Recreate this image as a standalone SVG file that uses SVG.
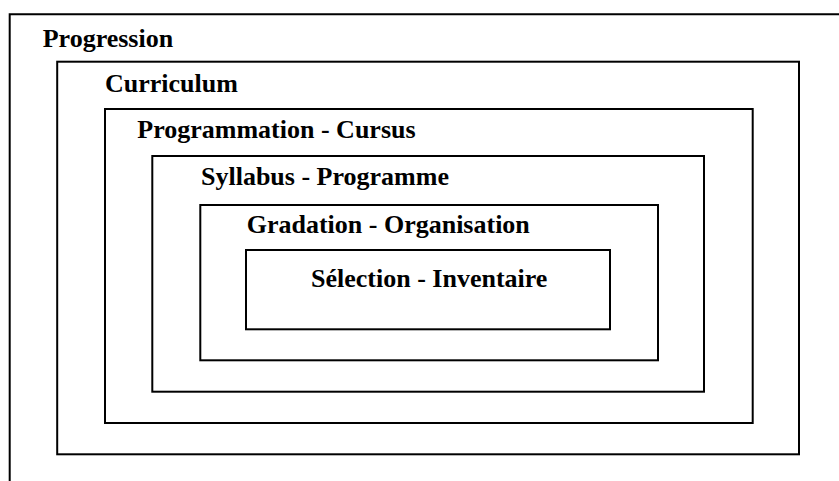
<svg xmlns="http://www.w3.org/2000/svg" width="839" height="481" viewBox="0 0 839 481">
  <style>
    .frame { fill: none; stroke: #000; stroke-width: 2; }
    .label { font-family: "Liberation Serif", "Times New Roman", serif; font-weight: bold; font-size: 26px; fill: #000; }
  </style>
  <rect x="0" y="0" width="839" height="481" fill="#fff"/>
  <g id="progression">
    <path class="frame" d="M9.7 481 V14.3 H839"/>
    <text class="label" x="42.7" y="46.5">Progression</text>
  </g>
  <g id="curriculum">
    <rect class="frame" x="57.2" y="61.7" width="741.8" height="392.6"/>
    <text class="label" x="105" y="91.5">Curriculum</text>
  </g>
  <g id="programmation">
    <rect class="frame" x="105" y="109" width="647.7" height="314"/>
    <text class="label" x="137.3" y="138.3">Programmation - Cursus</text>
  </g>
  <g id="syllabus">
    <rect class="frame" x="152.3" y="156" width="551.7" height="235.7"/>
    <text class="label" x="201" y="185">Syllabus - Programme</text>
  </g>
  <g id="gradation">
    <rect class="frame" x="200.3" y="205" width="457.7" height="155.3"/>
    <text class="label" x="246.7" y="233.3">Gradation - Organisation</text>
  </g>
  <g id="selection">
    <rect class="frame" x="246" y="250" width="364" height="79.3"/>
    <text class="label" x="311" y="287.3">Sélection - Inventaire</text>
  </g>
  <g id="connectors"/>
</svg>
